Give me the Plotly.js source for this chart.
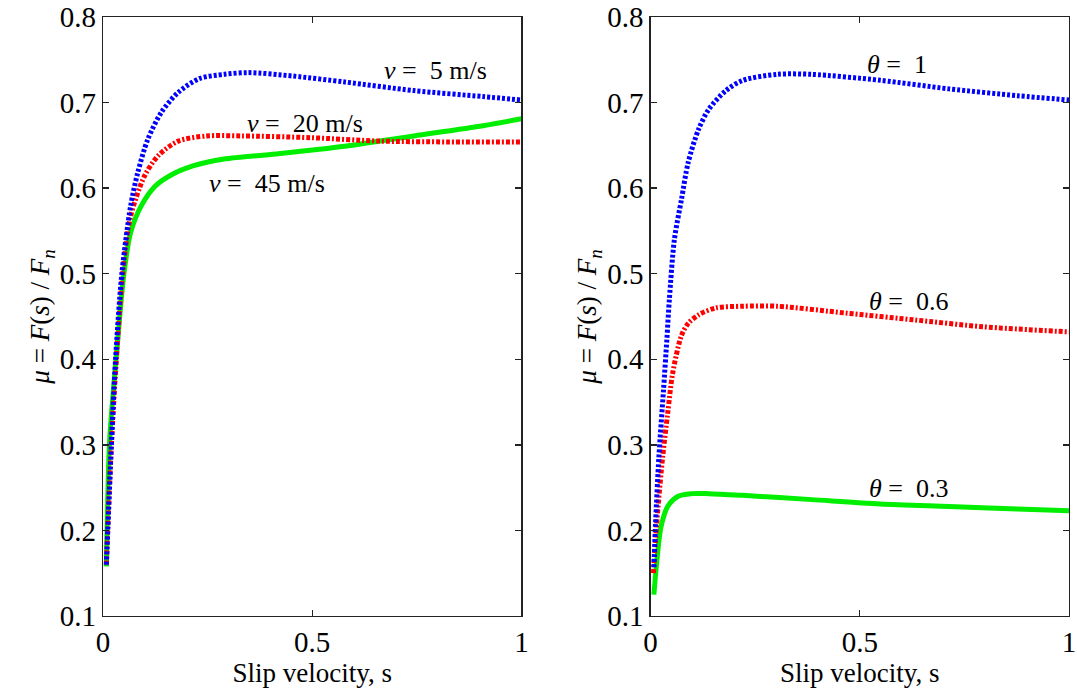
<!DOCTYPE html>
<html>
<head>
<meta charset="utf-8">
<script src="https://cdn.plot.ly/plotly-3.0.1.min.js"></script>
<style>html,body{margin:0;padding:0;background:#fff;}#chart{width:1077px;height:696px;}</style>
</head>
<body>
<div id="chart"></div>
<script>
// Left panel: different sliding speeds v
var sV5  = [0.008, 0.02, 0.03, 0.045, 0.066, 0.083, 0.107, 0.14, 0.18, 0.23, 0.29, 0.347, 0.454, 0.578, 0.743, 0.908, 1.0];
var muV5 = [0.16, 0.30, 0.40, 0.50, 0.579, 0.618, 0.657, 0.689, 0.712, 0.728, 0.733, 0.735, 0.731, 0.724, 0.714, 0.707, 0.703];
var sV20  = [0.008, 0.02, 0.032, 0.047, 0.066, 0.099, 0.132, 0.18, 0.248, 0.33, 0.495, 0.66, 0.825, 1.0];
var muV20 = [0.16, 0.30, 0.40, 0.50, 0.567, 0.614, 0.638, 0.655, 0.661, 0.661, 0.659, 0.655, 0.654, 0.654];
var sV45  = [0.008, 0.016, 0.033, 0.05, 0.066, 0.091, 0.124, 0.165, 0.215, 0.289, 0.413, 0.578, 0.743, 0.908, 1.0];
var muV45 = [0.158, 0.306, 0.41, 0.50, 0.548, 0.579, 0.602, 0.616, 0.626, 0.634, 0.640, 0.649, 0.661, 0.673, 0.681];

// Right panel: different theta
var sT1  = [0.008, 0.012, 0.02, 0.031, 0.039, 0.045, 0.057, 0.074, 0.09, 0.115, 0.139, 0.18, 0.221, 0.303, 0.385, 0.549, 0.713, 0.877, 1.0];
var muT1 = [0.157, 0.208, 0.286, 0.364, 0.423, 0.47, 0.54, 0.587, 0.63, 0.669, 0.692, 0.714, 0.726, 0.733, 0.733, 0.726, 0.716, 0.708, 0.703];
var sT06  = [0.007, 0.012, 0.018, 0.029, 0.041, 0.053, 0.074, 0.09, 0.115, 0.156, 0.221, 0.303, 0.467, 0.631, 0.795, 1.0];
var muT06 = [0.15, 0.189, 0.228, 0.286, 0.337, 0.384, 0.428, 0.442, 0.452, 0.46, 0.462, 0.462, 0.454, 0.446, 0.438, 0.432];
var sT03  = [0.008, 0.016, 0.025, 0.041, 0.066, 0.098, 0.139, 0.221, 0.385, 0.549, 0.713, 0.877, 1.0];
var muT03 = [0.125, 0.169, 0.204, 0.228, 0.24, 0.243, 0.243, 0.241, 0.236, 0.231, 0.228, 0.225, 0.223];

var leftLabels  = ["<i>v</i> =\u00a0\u00a05 m/s", "<i>v</i> =\u00a0\u00a020 m/s", "<i>v</i> =\u00a0\u00a045 m/s"];
var leftLabelX  = [0.794, 0.482, 0.391];
var leftLabelY  = [0.737, 0.676, 0.606];
var rightLabels = ["<i>θ</i> =\u00a0\u00a01", "<i>θ</i> =\u00a0\u00a00.6", "<i>θ</i> =\u00a0\u00a00.3"];
var rightLabelX = [0.588, 0.616, 0.616];
var rightLabelY = [0.745, 0.467, 0.249];

var FONT = "Liberation Serif";
var blue = "#0000ff", red = "#ff0000", green = "#00ee00";

function ln(color, dash) {
  var o = {color: color, width: 5, shape: "spline", smoothing: 0.8};
  if (dash) o.dash = dash;
  return o;
}

var traces = [
  {x: sV45, y: muV45, xaxis: "x", yaxis: "y", mode: "lines", line: ln(green)},
  {x: sV20, y: muV20, xaxis: "x", yaxis: "y", mode: "lines", line: ln(red, "4px,2px,2px,2px")},
  {x: sV5,  y: muV5,  xaxis: "x", yaxis: "y", mode: "lines", line: ln(blue, "3px,2px")},
  {x: sT03, y: muT03, xaxis: "x2", yaxis: "y2", mode: "lines", line: ln(green)},
  {x: sT06, y: muT06, xaxis: "x2", yaxis: "y2", mode: "lines", line: ln(red, "4px,2px,2px,2px")},
  {x: sT1,  y: muT1,  xaxis: "x2", yaxis: "y2", mode: "lines", line: ln(blue, "3px,2px")}
];

function xax(domain, anchor) {
  return {
    domain: domain, anchor: anchor, range: [0, 1], dtick: 0.5, tick0: 0,
    showline: true, mirror: "ticks", linecolor: "#222", linewidth: 1.3,
    ticks: "inside", ticklen: 6, tickwidth: 1.3, tickcolor: "#222",
    showgrid: false, zeroline: false, ticklabeloverflow: "allow",
    tickfont: {family: FONT, size: 29, color: "#000"},
    title: {text: "Slip velocity, s", font: {family: FONT, size: 27, color: "#000"}, standoff: 0}
  };
}
function yax(anchor) {
  return {
    anchor: anchor, range: [0.1, 0.8], dtick: 0.1, tick0: 0.1,
    showline: true, mirror: "ticks", linecolor: "#222", linewidth: 1.3,
    ticks: "inside", ticklen: 6, tickwidth: 1.3, tickcolor: "#222",
    showgrid: false, zeroline: false, ticklabeloverflow: "allow",
    tickfont: {family: FONT, size: 29, color: "#000"},
    title: {text: "<i>μ</i> = <i>F</i>(<i>s</i>) / <i>F</i><sub><i>n</i></sub>", font: {family: FONT, size: 27, color: "#000"}, standoff: 2}
  };
}

var annotations = [];
for (var i = 0; i < leftLabels.length; i++) {
  annotations.push({xref: "x", yref: "y", x: leftLabelX[i], y: leftLabelY[i], text: leftLabels[i],
    showarrow: false, font: {family: FONT, size: 26, color: "#000"}});
}
for (var j = 0; j < rightLabels.length; j++) {
  annotations.push({xref: "x2", yref: "y2", x: rightLabelX[j], y: rightLabelY[j], text: rightLabels[j],
    showarrow: false, font: {family: FONT, size: 26, color: "#000"}});
}

var layout = {
  width: 1077, height: 696,
  margin: {l: 103, r: 8, t: 17, b: 80},
  paper_bgcolor: "#fff", plot_bgcolor: "#fff",
  showlegend: false,
  xaxis: xax([0, 0.4332], "y"),
  yaxis: yax("x"),
  xaxis2: xax([0.5668, 1], "y2"),
  yaxis2: yax("x2"),
  annotations: annotations
};

Plotly.newPlot("chart", traces, layout, {displayModeBar: false, staticPlot: true});
</script>
</body>
</html>
